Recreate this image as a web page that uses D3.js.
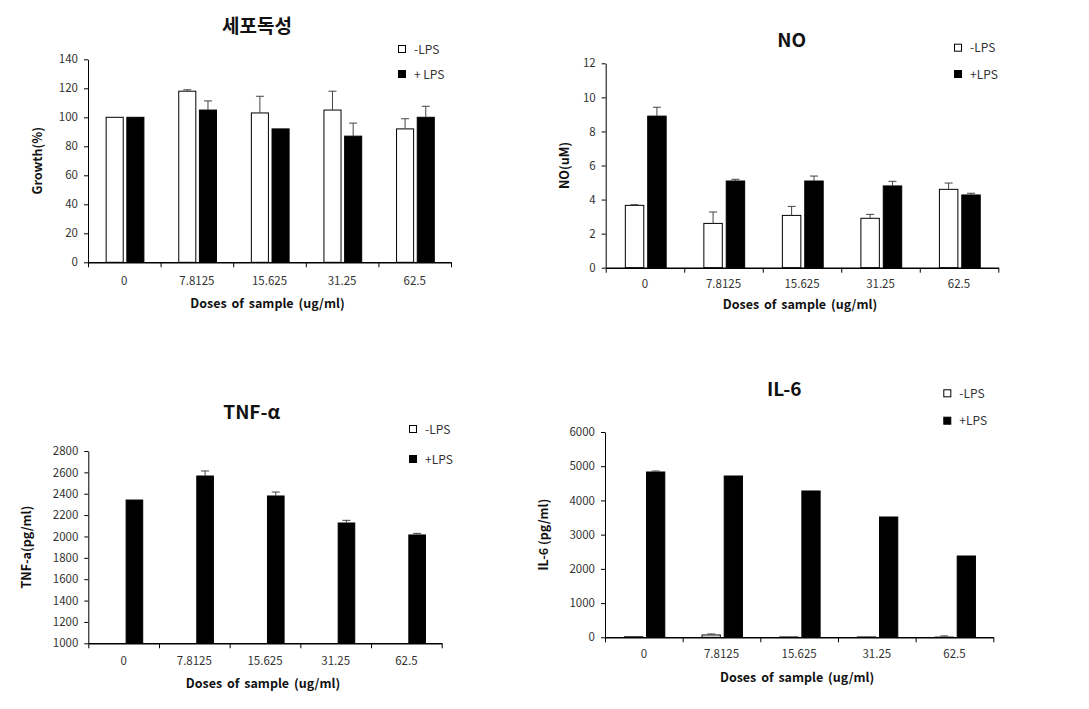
<!DOCTYPE html>
<html>
<head>
<meta charset="utf-8">
<script src="https://cdn.jsdelivr.net/npm/d3@7"></script>
<style>
  html, body { margin: 0; padding: 0; background: #fff; }
  svg text { font-family: "Noto Sans CJK KR", "Noto Sans", sans-serif; fill: #222; }
</style>
</head>
<body>
<svg id="chart" width="1089" height="709"></svg>
<script>
// ---------- data ----------
const categories = ["0", "7.8125", "15.625", "31.25", "62.5"];
const seriesNames = ["-LPS", "+LPS"];

// Cytotoxicity (Growth %)
const growthMinus = [100, 118, 103, 105, 92];
const growthMinusErr = [0, 1, 11.5, 13, 7];
const growthPlus = [100, 105, 92, 87, 100];
const growthPlusErr = [0, 6.3, 0, 9, 7.6];
const growthTicks = [0, 20, 40, 60, 80, 100, 120, 140];

// NO (uM)
const noMinus = [3.66, 2.6, 3.07, 2.9, 4.6];
const noMinusErr = [0.04, 0.67, 0.53, 0.23, 0.37];
const noPlus = [8.9, 5.09, 5.09, 4.8, 4.27];
const noPlusErr = [0.52, 0.1, 0.29, 0.27, 0.1];
const noTicks = [0, 2, 4, 6, 8, 10, 12];

// TNF-alpha (pg/ml) - -LPS values lie below the axis minimum
const tnfMinus = [null, null, null, null, null];
const tnfMinusErr = [0, 0, 0, 0, 0];
const tnfPlus = [2341, 2566, 2379, 2126, 2014];
const tnfPlusErr = [0, 47, 37, 25, 15];
const tnfTicks = [1000, 1200, 1400, 1600, 1800, 2000, 2200, 2400, 2600, 2800];

// IL-6 (pg/ml)
const il6Minus = [15, 68, 10, 10, 5];
const il6MinusErr = [0, 29, 0, 0, 35];
const il6Plus = [4831, 4714, 4276, 3516, 2376];
const il6PlusErr = [29, 0, 0, 0, 0];
const il6Ticks = [0, 1000, 2000, 3000, 4000, 5000, 6000];

// ---------- layout ----------
const panels = [
  { title: "세포독성", yTitle: "Growth(%)", minus: growthMinus, minusErr: growthMinusErr,
    plus: growthPlus, plusErr: growthPlusErr, ticks: growthTicks,
    left: 88, right: 451, top: 59.3, bottom: 262.3,
    titleX: 257, titleY: 33, legX: 402, legY: [49, 74], legLabels: ["-LPS", "+ LPS"],
    yTitleX: 42, xTitleY: 308, tickLabelY: 285 },
  { title: "NO", yTitle: "NO(uM)", minus: noMinus, minusErr: noMinusErr,
    plus: noPlus, plusErr: noPlusErr, ticks: noTicks,
    left: 605.7, right: 998.3, top: 63.3, bottom: 267.7,
    titleX: 791.7, titleY: 47, legX: 958, legY: [47.7, 74], legLabels: ["-LPS", "+LPS"],
    yTitleX: 569, xTitleY: 309, tickLabelY: 288 },
  { title: "TNF-α", yTitle: "TNF-a(pg/ml)", minus: tnfMinus, minusErr: tnfMinusErr,
    plus: tnfPlus, plusErr: tnfPlusErr, ticks: tnfTicks,
    left: 88.3, right: 441.7, top: 451, bottom: 643.3,
    titleX: 251.7, titleY: 418.5, legX: 413, legY: [429, 459], legLabels: ["-LPS", "+LPS"],
    yTitleX: 31, xTitleY: 688, tickLabelY: 665 },
  { title: "IL-6", yTitle: "IL-6 (pg/ml)", minus: il6Minus, minusErr: il6MinusErr,
    plus: il6Plus, plusErr: il6PlusErr, ticks: il6Ticks,
    left: 605, right: 993.3, top: 432, bottom: 637.3,
    titleX: 784.3, titleY: 395.5, legX: 947.3, legY: [393.3, 420.7], legLabels: ["-LPS", "+LPS"],
    yTitleX: 548, xTitleY: 682, tickLabelY: 658 }
];

const svg = d3.select("#chart");

panels.forEach(p => {
  const g = svg.append("g");
  const x0 = d3.scaleBand().domain(categories).range([p.left, p.right]).padding(0);
  const bw = x0.bandwidth();
  const x1 = d3.scaleBand().domain(seriesNames).range([0.25 * bw, 0.77 * bw]).paddingInner(0.175);
  const yMin = p.ticks[0], yMax = p.ticks[p.ticks.length - 1];
  const y = d3.scaleLinear().domain([yMin, yMax]).range([p.bottom, p.top]);

  // title
  g.append("text").attr("x", p.titleX).attr("y", p.titleY)
    .attr("text-anchor", "middle").attr("font-size", 19).attr("font-weight", "bold")
    .style("fill", "#111").text(p.title);

  // bars
  const rows = categories.map((c, i) => [
    { cat: c, s: "-LPS", v: p.minus[i], e: p.minusErr[i] },
    { cat: c, s: "+LPS", v: p.plus[i], e: p.plusErr[i] }
  ]).flat().filter(d => d.v !== null && d.v > yMin);

  g.selectAll("rect.bar").data(rows).join("rect")
    .attr("class", "bar")
    .attr("x", d => x0(d.cat) + x1(d.s))
    .attr("width", x1.bandwidth())
    .attr("y", d => y(d.v))
    .attr("height", d => y(yMin) - y(d.v))
    .attr("fill", d => d.s === "-LPS" ? "#fff" : "#000")
    .attr("stroke", "#000").attr("stroke-width", 1);

  // error bars (upper only)
  const errs = rows.filter(d => d.e > 0);
  g.selectAll("line.err").data(errs).join("line")
    .attr("x1", d => x0(d.cat) + x1(d.s) + x1.bandwidth() / 2)
    .attr("x2", d => x0(d.cat) + x1(d.s) + x1.bandwidth() / 2)
    .attr("y1", d => y(d.v)).attr("y2", d => y(d.v + d.e))
    .attr("stroke", "#444").attr("stroke-width", 1);
  g.selectAll("line.cap").data(errs).join("line")
    .attr("x1", d => x0(d.cat) + x1(d.s) + x1.bandwidth() / 2 - 4)
    .attr("x2", d => x0(d.cat) + x1(d.s) + x1.bandwidth() / 2 + 4)
    .attr("y1", d => y(d.v + d.e)).attr("y2", d => y(d.v + d.e))
    .attr("stroke", "#444").attr("stroke-width", 1);

  // y axis
  const yAxis = g.append("g").attr("transform", `translate(${p.left},0)`)
    .call(d3.axisLeft(y).tickValues(p.ticks).tickSize(4).tickSizeOuter(0).tickPadding(6).tickFormat(d3.format("d")));
  yAxis.select(".domain").attr("stroke", "#000");
  yAxis.selectAll(".tick line").attr("stroke", "#000");
  yAxis.selectAll(".tick text").attr("font-size", 11.5).style("fill", "#333")
    .style("font-family", "'Noto Sans CJK KR', sans-serif");

  // x axis: boundary ticks
  const xb = d3.scaleLinear().domain([0, categories.length]).range([p.left, p.right]);
  const xAxis = g.append("g").attr("transform", `translate(0,${p.bottom})`)
    .call(d3.axisBottom(xb).tickValues(d3.range(categories.length + 1)).tickSize(5).tickSizeOuter(0).tickFormat(""));
  xAxis.select(".domain").attr("stroke", "#000").attr("stroke-width", 1.5);
  xAxis.selectAll(".tick line").attr("stroke", "#000");

  // category labels
  g.selectAll("text.cat").data(categories).join("text")
    .attr("class", "cat")
    .attr("x", d => x0(d) + bw / 2).attr("y", p.tickLabelY)
    .attr("text-anchor", "middle").attr("font-size", 11.5).style("fill", "#333")
    .text(d => d);

  // axis titles
  g.append("text").attr("x", (p.left + p.right) / 2 - 2).attr("y", p.xTitleY)
    .attr("text-anchor", "middle").attr("font-size", 12.5).attr("font-weight", "bold")
    .style("word-spacing", "2px").style("fill", "#111")
    .text("Doses of sample (ug/ml)");
  g.append("text")
    .attr("transform", `translate(${p.yTitleX},${(p.top + p.bottom) / 2}) rotate(-90)`)
    .attr("text-anchor", "middle").attr("font-size", 12.5).attr("font-weight", "bold")
    .style("fill", "#111").text(p.yTitle);

  // legend
  seriesNames.forEach((s, i) => {
    const ly = p.legY[i];
    g.append("rect").attr("x", p.legX - 3.5).attr("y", ly - 3.5).attr("width", 7).attr("height", 7)
      .attr("fill", i === 0 ? "#fff" : "#000").attr("stroke", "#000").attr("stroke-width", 1);
    g.append("text").attr("x", p.legX + 12).attr("y", ly + 4.5)
      .attr("font-size", 12).style("fill", "#333").text(p.legLabels[i]);
  });
});
</script>
</body>
</html>
